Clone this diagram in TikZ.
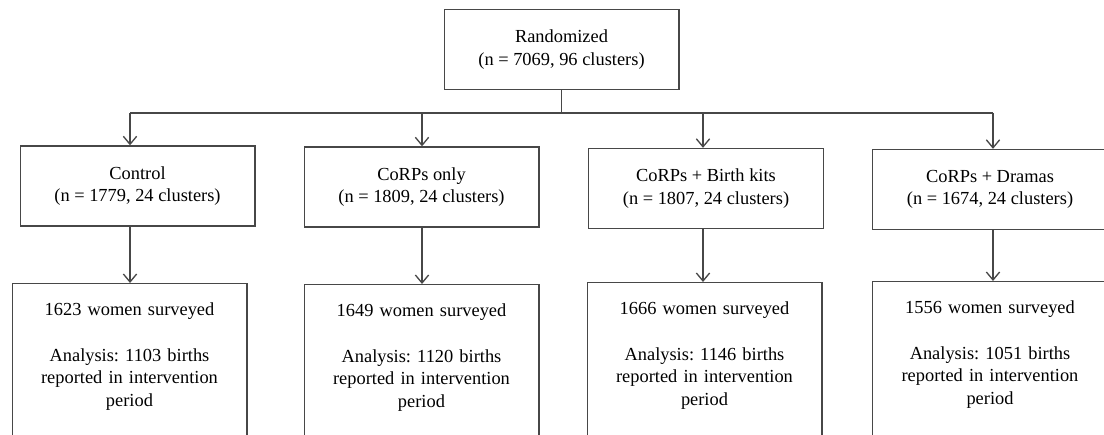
\documentclass[tikz,border=0pt]{standalone}
\usepackage{fontspec}
\setmainfont{Liberation Serif}
\usetikzlibrary{positioning,arrows.meta}
\frenchspacing

\begin{document}
\begin{tikzpicture}[x=0.75pt, y=-0.75pt, line width=1pt,
	font=\fontsize{13.8}{17}\selectfont,
	box/.style={draw=black!72, minimum width=176pt, minimum height=60pt, align=center},
	survey/.style={draw=black!72, anchor=north, text width=168pt, align=center, inner xsep=4pt, inner ysep=12pt, text height=12pt, text depth=89pt},
	arr/.style={draw=black!72, -{Straight Barb[length=6pt, width=10pt]}}]
	\useasboundingbox (0, 0) rectangle (1104, 435);
	\clip (0, 0) rectangle (1104, 435);

	\node[box] (rand) at (561.5, 49.5) {Randomized\\(n = 7069, 96 clusters)};

	\node[box] (ctl) at (137.5, 186) {Control\\(n = 1779, 24 clusters)};
	\node[box] (corp) at (421.5, 187) {CoRPs only\\(n = 1809, 24 clusters)};
	\node[box] (kit) at (706, 188.5) {CoRPs + Birth kits\\(n = 1807, 24 clusters)};
	\node[box] (drama) at (990, 189.5) {CoRPs + Dramas\\(n = 1674, 24 clusters)};

	\node[survey] (s1) at (129.5, 283) {1623 women surveyed\\[17pt]Analysis: 1103 births\\reported in intervention\\period};
	\node[survey] (s2) at (421.5, 284) {1649 women surveyed\\[17pt]Analysis: 1120 births\\reported in intervention\\period};
	\node[survey] (s3) at (704.5, 282) {1666 women surveyed\\[17pt]Analysis: 1146 births\\reported in intervention\\period};
	\node[survey] (s4) at (990, 281) {1556 women surveyed\\[17pt]Analysis: 1051 births\\reported in intervention\\period};

	\coordinate (c1) at (130, 113);
	\coordinate (c2) at (422, 113);
	\coordinate (c3) at (703, 113);
	\coordinate (c4) at (993, 113);

	\draw[black!72] (rand.south) -- (rand.south |- c1);
	\draw[black!72] (c1) -- (c4);

	\draw[arr] (c1) -- (c1 |- ctl.north);
	\draw[arr] (c2) -- (c2 |- corp.north);
	\draw[arr] (c3) -- (c3 |- kit.north);
	\draw[arr] (c4) -- (c4 |- drama.north);

	\draw[arr] (c1 |- ctl.south) -- (c1 |- s1.north);
	\draw[arr] (c2 |- corp.south) -- (c2 |- s2.north);
	\draw[arr] (c3 |- kit.south) -- (c3 |- s3.north);
	\draw[arr] (c4 |- drama.south) -- (c4 |- s4.north);
\end{tikzpicture}
\end{document}
